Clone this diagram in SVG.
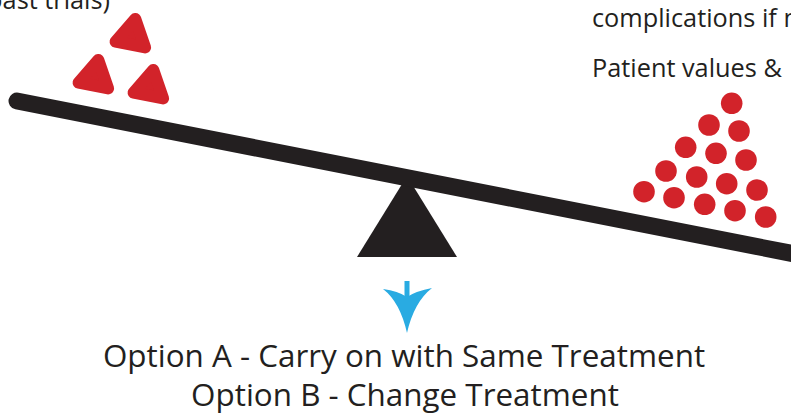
<svg xmlns="http://www.w3.org/2000/svg" width="791" height="416" viewBox="0 0 791 416">
<style>
.t{font-family:"Open Sans","Noto Sans",sans-serif;fill:#231f20}
.top{font-size:25.3px}
.opt{font-size:31.4px;text-anchor:middle}
.red{fill:#d2232a}
.tri{fill:#d2232a;stroke:#d2232a;stroke-width:12;stroke-linejoin:round}
.dark{fill:#231f20}
.blue{fill:#29abe2}
</style>
<defs>
<path id="tri" class="tri" d="M3.3,-17 L13.1,11.4 L-16.4,5.6 Z"/>
</defs>
<g id="labels">
<text class="t top" x="110" y="9" text-anchor="end">past trials)</text>
<text class="t top" x="592" y="27">complications if n</text>
<text class="t top" x="592" y="77">Patient values &amp;</text>
</g>
<g id="left-weights">
<use href="#tri" x="132" y="36"/>
<use href="#tri" x="95" y="77"/>
<use href="#tri" x="150" y="87"/>
</g>
<g id="right-weights" class="red">
<circle cx="731.7" cy="103.3" r="10.8"/>
<circle cx="709" cy="125" r="10.8"/>
<circle cx="739" cy="131" r="10.8"/>
<circle cx="685.7" cy="147.3" r="10.8"/>
<circle cx="716" cy="153.3" r="10.8"/>
<circle cx="746" cy="160" r="10.8"/>
<circle cx="666" cy="171" r="10.8"/>
<circle cx="696.7" cy="177" r="10.8"/>
<circle cx="726.7" cy="183.7" r="10.8"/>
<circle cx="757" cy="190" r="10.8"/>
<circle cx="644" cy="191.7" r="10.8"/>
<circle cx="674" cy="197.7" r="10.8"/>
<circle cx="704.7" cy="204.3" r="10.8"/>
<circle cx="735" cy="210.7" r="10.8"/>
<circle cx="765.7" cy="217" r="10.8"/>
</g>
<g id="seesaw">
<polygon id="fulcrum" class="dark" points="407,176 357,257 457,257"/>
<line id="beam" x1="17" y1="101" x2="805" y2="256" stroke="#231f20" stroke-width="17" stroke-linecap="round"/>
</g>
<g id="connectors">
<rect class="blue" x="404.5" y="281" width="5" height="17"/>
<path class="blue" d="M407,333 Q400,302 383,289 Q398,291 407,297 Q416,291 432,288 Q414,302 407,333 Z"/>
</g>
<g id="options">
<text class="t opt" x="404" y="367">Option A - Carry on with Same Treatment</text>
<text class="t opt" x="405" y="406">Option B - Change Treatment</text>
</g>
</svg>
